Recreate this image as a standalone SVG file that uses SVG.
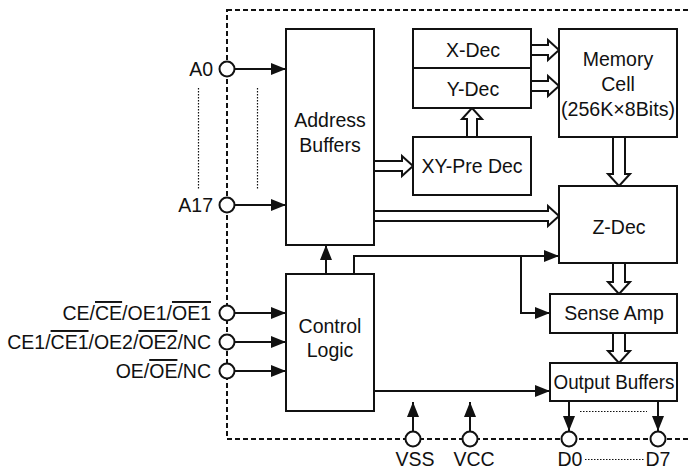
<svg xmlns="http://www.w3.org/2000/svg" width="691" height="473" viewBox="0 0 691 473">
<style>
text{font-family:"Liberation Sans",Arial,sans-serif;font-size:19.5px;fill:#111;}
.c{text-anchor:middle;}
.r{text-anchor:end;}
.box{fill:#fff;stroke:#111;stroke-width:2;}
.ln{fill:none;stroke:#111;stroke-width:2;}
.hol{fill:#fff;stroke:#111;stroke-width:2;stroke-linejoin:miter;}
.pin{fill:#fff;stroke:#111;stroke-width:2;}
.ol{text-decoration:overline;}
</style>
<defs>
<marker id="ah" markerWidth="15" markerHeight="12" refX="15" refY="6" orient="auto" markerUnits="userSpaceOnUse">
<path d="M0,0 L15,6 L0,12 Z" fill="#111"/>
</marker>
</defs>
<rect width="691" height="473" fill="#fff"/>
<g id="border">
<rect x="227" y="10" width="480" height="429" fill="none" stroke="#111" stroke-width="2" stroke-dasharray="5,3"/>
</g>
<g id="dots" fill="none" stroke="#111" stroke-width="1.2" stroke-dasharray="1.5,1.5">
<line x1="198.5" y1="88" x2="198.5" y2="190"/>
<line x1="257.5" y1="88" x2="257.5" y2="190"/>
<line x1="580" y1="411.5" x2="647" y2="411.5"/>
<line x1="585" y1="459.5" x2="645" y2="459.5"/>
</g>
<g id="connectors">
<line class="ln" x1="235" y1="69" x2="286" y2="69" marker-end="url(#ah)"/>
<line class="ln" x1="235" y1="205" x2="286" y2="205" marker-end="url(#ah)"/>
<line class="ln" x1="235" y1="313" x2="286" y2="313" marker-end="url(#ah)"/>
<line class="ln" x1="235" y1="342" x2="286" y2="342" marker-end="url(#ah)"/>
<line class="ln" x1="235" y1="371" x2="286" y2="371" marker-end="url(#ah)"/>
<line class="ln" x1="326" y1="274" x2="326" y2="245" marker-end="url(#ah)"/>
<polyline class="ln" points="354,274 354,256 559,256" marker-end="url(#ah)"/>
<polyline class="ln" points="521,256 521,313 550,313" marker-end="url(#ah)"/>
<line class="ln" x1="374" y1="391" x2="550" y2="391" marker-end="url(#ah)"/>
<line class="ln" x1="413" y1="431" x2="413" y2="402" marker-end="url(#ah)"/>
<line class="ln" x1="470" y1="431" x2="470" y2="402" marker-end="url(#ah)"/>
<line class="ln" x1="569" y1="401" x2="569" y2="431" marker-end="url(#ah)"/>
<line class="ln" x1="658" y1="401" x2="658" y2="431" marker-end="url(#ah)"/>
<path class="hol" d="M531,45 L548,45 L548,40 L559,50 L548,60 L548,55 L531,55"/>
<path class="hol" d="M531,81 L548,81 L548,76 L559,86 L548,96 L548,91 L531,91"/>
<path class="hol" d="M374,161 L402,161 L402,156 L413,166 L402,176 L402,171 L374,171"/>
<path class="hol" d="M374,211 L548,211 L548,206 L559,216 L548,226 L548,221 L374,221"/>
<path class="hol" d="M467,137 L467,119 L462,119 L472,108 L482,119 L477,119 L477,137"/>
<path class="hol" d="M613,137 L613,174 L608,174 L619,186 L630,174 L625,174 L625,137"/>
<path class="hol" d="M613,263 L613,282 L608,282 L619,294 L630,282 L625,282 L625,263"/>
<path class="hol" d="M613,333 L613,351 L608,351 L619,363 L630,351 L625,351 L625,333"/>
</g>
<g id="pins">
<circle class="pin" cx="227" cy="69" r="7.5"/>
<circle class="pin" cx="227" cy="205" r="7.5"/>
<circle class="pin" cx="227" cy="313" r="7.5"/>
<circle class="pin" cx="227" cy="342" r="7.5"/>
<circle class="pin" cx="227" cy="371" r="7.5"/>
<circle class="pin" cx="413" cy="439" r="7.5"/>
<circle class="pin" cx="470" cy="439" r="7.5"/>
<circle class="pin" cx="569" cy="439" r="7.5"/>
<circle class="pin" cx="658" cy="439" r="7.5"/>
</g>
<g id="labels">
<text class="r" x="213" y="76">A0</text>
<text class="r" x="213" y="212">A17</text>
<text class="r" x="211" y="320">CE/<tspan class="ol">CE</tspan>/OE1/<tspan class="ol">OE1</tspan></text>
<text class="r" x="211" y="349">CE1/<tspan class="ol">CE1</tspan>/OE2/<tspan class="ol">OE2</tspan>/NC</text>
<text class="r" x="211" y="378">OE/<tspan class="ol">OE</tspan>/NC</text>
<text class="c" x="415" y="466">VSS</text>
<text class="c" x="474" y="466">VCC</text>
<text class="c" x="570" y="466">D0</text>
<text class="c" x="658" y="466">D7</text>
</g>
<g id="address-buffers">
<rect class="box" x="286" y="29" width="88" height="216"/>
<text class="c" x="330" y="127">Address</text>
<text class="c" x="330" y="152">Buffers</text>
</g>
<g id="control-logic">
<rect class="box" x="286" y="274" width="88" height="137"/>
<text class="c" x="330" y="333">Control</text>
<text class="c" x="330" y="357">Logic</text>
</g>
<g id="x-dec">
<rect class="box" x="413" y="29" width="118" height="39"/>
<text class="c" x="473" y="57">X-Dec</text>
</g>
<g id="y-dec">
<rect class="box" x="413" y="68" width="118" height="40"/>
<text class="c" x="473" y="96">Y-Dec</text>
</g>
<g id="xy-pre-dec">
<rect class="box" x="413" y="137" width="118" height="58"/>
<text class="c" x="472" y="173">XY-Pre Dec</text>
</g>
<g id="memory-cell">
<rect class="box" x="559" y="29" width="118" height="108"/>
<text class="c" x="618" y="66">Memory</text>
<text class="c" x="618" y="91">Cell</text>
<text class="c" x="618" y="116" textLength="114" lengthAdjust="spacingAndGlyphs">(256K×8Bits)</text>
</g>
<g id="z-dec">
<rect class="box" x="559" y="186" width="118" height="77"/>
<text class="c" x="619" y="234">Z-Dec</text>
</g>
<g id="sense-amp">
<rect class="box" x="550" y="294" width="127" height="39"/>
<text class="c" x="614" y="320">Sense Amp</text>
</g>
<g id="output-buffers">
<rect class="box" x="550" y="363" width="127" height="38"/>
<text class="c" x="614" y="389" textLength="121" lengthAdjust="spacingAndGlyphs">Output Buffers</text>
</g>
</svg>
